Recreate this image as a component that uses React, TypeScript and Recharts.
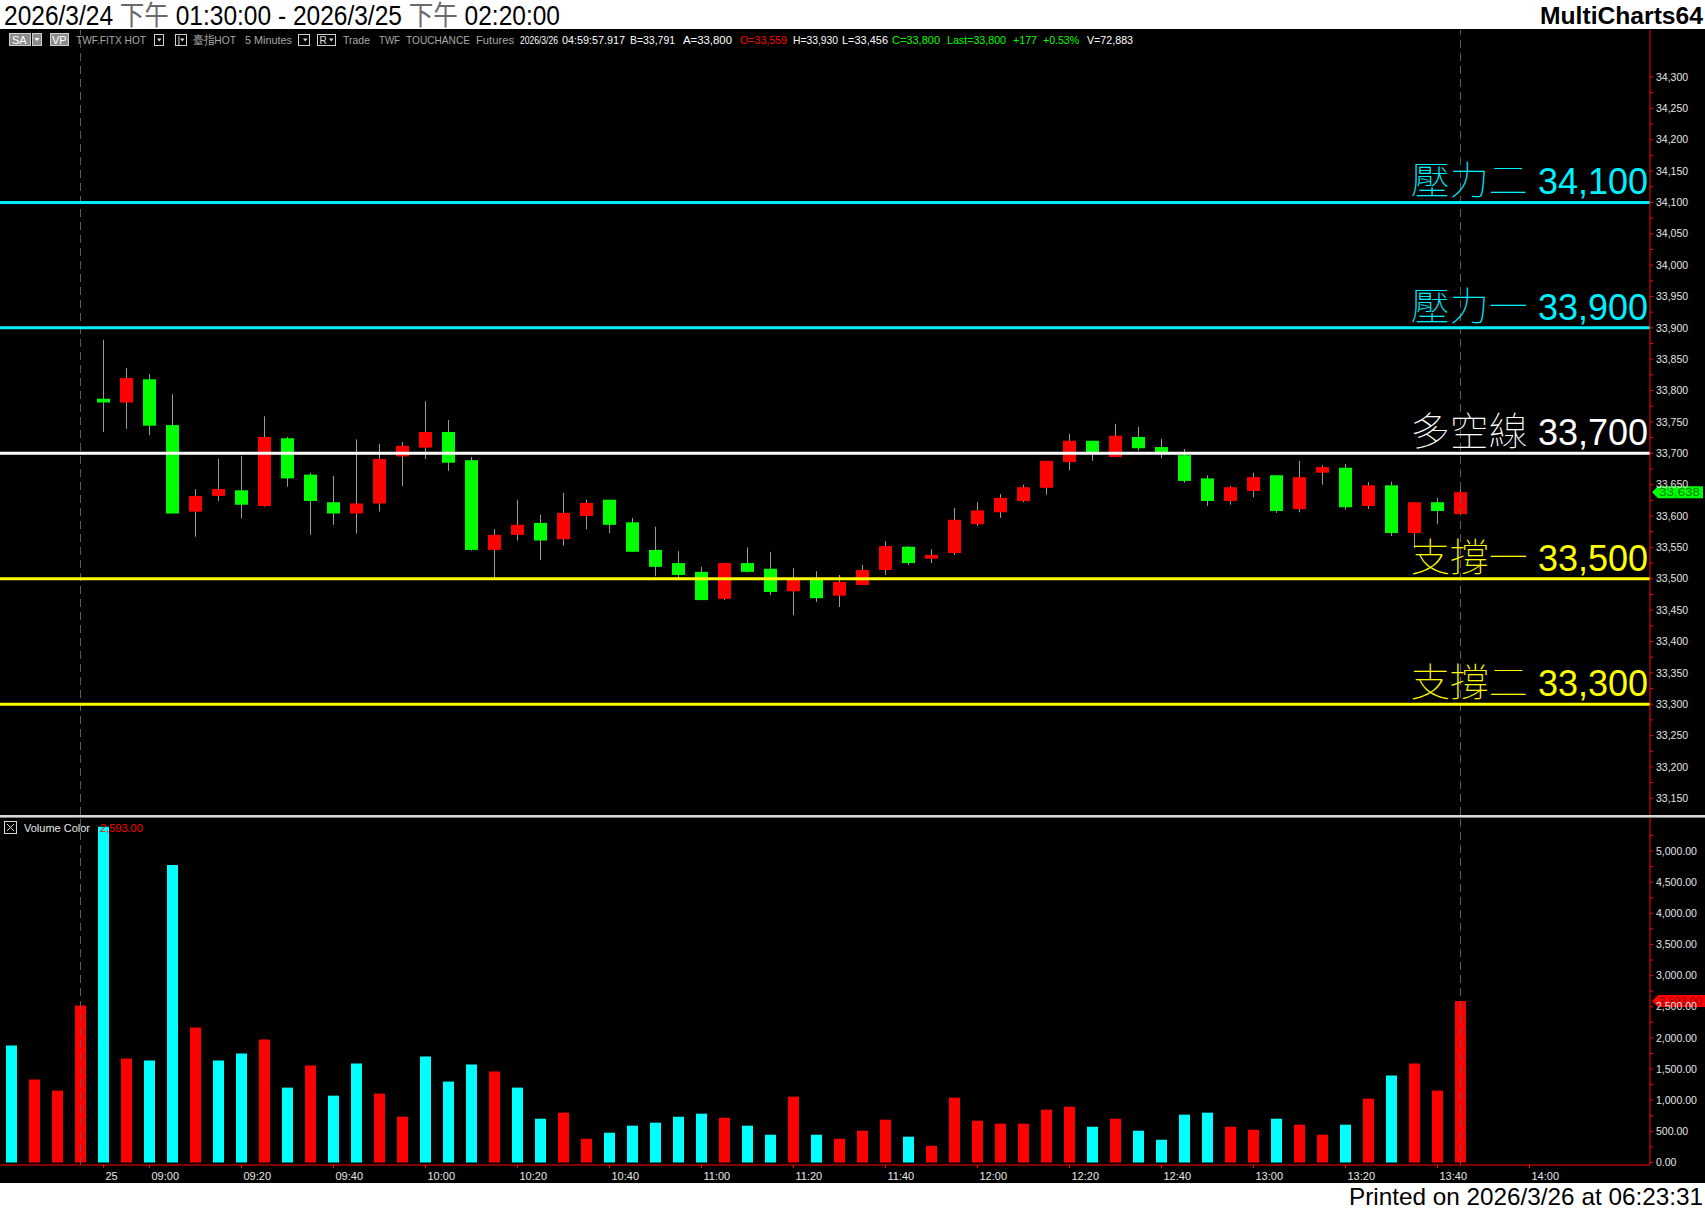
import React from 'react';
import { ComposedChart, Bar, XAxis, YAxis, ReferenceLine, Cell } from 'recharts';

const LAT = "'Liberation Sans', Arial, sans-serif";
const CJK = "'Noto Sans CJK TC', 'Noto Sans CJK SC', sans-serif";

// ---------------- DATA ----------------
// 5-minute bars. Bar index 0..63 (0..3 = previous session end, 4 = 3/25 08:50 ... 63 = 13:45)
const candleStartIndex = 4;
const candleOpen = [
  33787, 33781, 33818, 33745, 33607, 33632, 33641, 33616, 33724, 33666,
  33622, 33604, 33620, 33695, 33709, 33734, 33689, 33546, 33570, 33589,
  33563, 33600, 33626, 33590, 33546, 33525, 33511, 33468, 33525, 33516,
  33480, 33498, 33473, 33490, 33514, 33551, 33532, 33541, 33587, 33606,
  33624, 33645, 33686, 33720, 33694, 33726, 33710, 33697, 33660, 33624,
  33640, 33665, 33611, 33669, 33677, 33616, 33649, 33573, 33622, 33603,
];
const candleHigh = [
  33881, 33836, 33826, 33794, 33643, 33691, 33696, 33759, 33726, 33669,
  33664, 33722, 33715, 33718, 33783, 33753, 33694, 33579, 33626, 33602,
  33637, 33626, 33626, 33597, 33583, 33544, 33519, 33525, 33550, 33543,
  33517, 33512, 33506, 33522, 33560, 33552, 33547, 33613, 33622, 33635,
  33650, 33688, 33731, 33720, 33747, 33742, 33723, 33707, 33665, 33648,
  33669, 33665, 33688, 33681, 33683, 33654, 33655, 33622, 33629, 33650,
];
const candleLow = [
  33734, 33739, 33729, 33604, 33567, 33624, 33596, 33615, 33647, 33570,
  33586, 33572, 33607, 33648, 33691, 33672, 33545, 33501, 33561, 33530,
  33553, 33579, 33573, 33543, 33504, 33502, 33466, 33466, 33510, 33474,
  33442, 33463, 33455, 33490, 33506, 33522, 33525, 33538, 33584, 33597,
  33622, 33634, 33673, 33688, 33694, 33704, 33692, 33653, 33616, 33618,
  33630, 33605, 33606, 33650, 33610, 33611, 33568, 33549, 33587, 33602,
];
const candleClose = [
  33781, 33820, 33744, 33604, 33632, 33643, 33618, 33726, 33660, 33624,
  33604, 33620, 33691, 33712, 33734, 33685, 33546, 33570, 33586, 33561,
  33605, 33621, 33586, 33543, 33519, 33506, 33466, 33525, 33511, 33479,
  33498, 33469, 33495, 33514, 33552, 33525, 33538, 33594, 33609, 33629,
  33646, 33688, 33720, 33702, 33728, 33708, 33702, 33656, 33624, 33646,
  33662, 33608, 33662, 33678, 33614, 33649, 33573, 33622, 33608, 33638,
];

const volumes = [
  1878, 1331, 1154, 2522, 5391, 1669, 1637, 4775, 2168, 1637,
  1749, 1975, 1202, 1556, 1073, 1588, 1106, 735, 1701, 1299,
  1572, 1460, 1202, 703, 800, 381, 478, 591, 639, 735,
  784, 719, 591, 446, 1057, 446, 381, 510, 687, 414,
  269, 1041, 671, 623, 623, 848, 896, 574, 703, 510,
  365, 768, 800, 574, 526, 703, 607, 446, 607, 1025,
  1395, 1588, 1154, 2593,
];
// 1 = red (up volume), 0 = cyan
const volumeUp = [
  0, 1, 1, 1, 0, 1, 0, 0, 1, 0,
  0, 1, 0, 1, 0, 0, 1, 1, 0, 0,
  0, 1, 0, 0, 1, 1, 0, 0, 0, 0,
  0, 1, 0, 0, 1, 0, 1, 1, 1, 0,
  1, 1, 1, 1, 1, 1, 1, 0, 1, 0,
  0, 0, 0, 1, 1, 0, 1, 1, 0, 1,
  0, 1, 1, 1,
];

const timeTickIndex = [4, 6, 10, 14, 18, 22, 26, 30, 34, 38, 42, 46, 50, 54, 58, 62, 66];
const timeTickLabels = ['25', '09:00', '09:20', '09:40', '10:00', '10:20', '10:40', '11:00', '11:20',
  '11:40', '12:00', '12:20', '12:40', '13:00', '13:20', '13:40', '14:00'];

const sessionMarks = [3, 63];

const priceMajorTicks = [33150, 33200, 33250, 33300, 33350, 33400, 33450, 33500, 33550, 33600,
  33650, 33700, 33750, 33800, 33850, 33900, 33950, 34000, 34050, 34100, 34150, 34200, 34250, 34300];
const volumeMajorTicks = [0, 500, 1000, 1500, 2000, 2500, 3000, 3500, 4000, 4500, 5000];

const levelNames = ['壓力二', '壓力一', '多空線', '支撐一', '支撐二'];
const levelValues = [34100, 33900, 33700, 33500, 33300];
const levelColors = ['#00f0ff', '#00f0ff', '#ffffff', '#ffff00', '#ffff00'];

// built tables
const withMinor = (maj: number[]) => {
  const out: number[] = [];
  maj.forEach((v, k) => {
    out.push(v);
    if (k < maj.length - 1) out.push((v + maj[k + 1]) / 2);
  });
  return out;
};
const priceTicks = withMinor(priceMajorTicks);
const volumeTicks = withMinor(volumeMajorTicks).concat([5250]);

const candleData = candleOpen.map((o, k) => ({
  i: candleStartIndex + k,
  open: o,
  high: candleHigh[k],
  low: candleLow[k],
  close: candleClose[k],
  range: [candleLow[k], candleHigh[k]],
}));
const volumeData = volumes.map((v, i) => ({ i, vol: v, up: volumeUp[i] === 1 }));

const lastClose = candleClose[candleClose.length - 1];
const lastVolume = volumes[volumes.length - 1];

const X_DOMAIN: [number, number] = [-0.5, 71.24];

// ---------------- SHAPES ----------------
const CandleShape = (props: any) => {
  const { x, width, payload } = props;
  let { y, height } = props;
  if (!payload || height == null) return null;
  if (height < 0) { y += height; height = -height; }
  const { open, close, high, low } = payload;
  const k = height / ((high - low) || 1);
  const yO = y + (high - open) * k;
  const yC = y + (high - close) * k;
  const up = close >= open;
  const top = Math.min(yO, yC);
  const bh = Math.max(2, Math.abs(yC - yO));
  const cx = x + width / 2;
  return (
    <g>
      <line x1={cx} x2={cx} y1={y} y2={y + height} stroke="#9c9c9c" strokeWidth={1} />
      <rect x={x} y={top} width={width} height={bh} fill={up ? '#ff0000' : '#00ff00'} />
    </g>
  );
};

const LevelLabel = (props: any) => {
  const { viewBox, name, value, color } = props;
  if (!viewBox) return null;
  const xr = viewBox.x + viewBox.width - 2;
  const yb = viewBox.y - 8;
  return (
    <text x={xr} y={yb} textAnchor="end" fill={color} fontSize={36} style={{ whiteSpace: 'pre' }}>
      <tspan fontFamily={CJK} fontWeight={100} fontSize={39}>{name}</tspan>
      <tspan fontFamily={LAT}>{' ' + value.toLocaleString('en-US')}</tspan>
    </text>
  );
};

const Flag = (props: any) => {
  const { viewBox, text, bg, fg, w, fs } = props;
  if (!viewBox) return null;
  const x0 = viewBox.x + viewBox.width + 2;
  const y = viewBox.y;
  const pts = `${x0},${y} ${x0 + 6},${y - 6} ${x0 + w},${y - 6} ${x0 + w},${y + 6} ${x0 + 6},${y + 6}`;
  return (
    <g>
      <polygon points={pts} fill={bg} />
      <text x={x0 + 7} y={y + 4} fill={fg} fontSize={fs} fontFamily={LAT} textLength={w - 10} lengthAdjust="spacingAndGlyphs">{text}</text>
    </g>
  );
};

const TimeTick = (props: any) => {
  const { x, y, payload } = props;
  const idx = timeTickIndex.indexOf(payload.value);
  if (idx < 0) return null;
  return (
    <text x={x + 2} y={y + 12} fill="#e6e6e6" fontSize={11} fontFamily={LAT}>{timeTickLabels[idx]}</text>
  );
};

// ---------------- OVERLAY TEXT ----------------
const infoItems = [
  { t: 'TWF.FITX HOT', x: 76, w: 70, c: '#a8a8a8' },
  { t: '臺指HOT', x: 193, w: 43, c: '#a8a8a8' },
  { t: '5 Minutes', x: 245, w: 47, c: '#a8a8a8' },
  { t: 'Trade', x: 343, w: 27, c: '#a8a8a8' },
  { t: 'TWF', x: 379, w: 21, c: '#a8a8a8' },
  { t: 'TOUCHANCE', x: 406, w: 64, c: '#a8a8a8' },
  { t: 'Futures', x: 476, w: 38, c: '#a8a8a8' },
  { t: '2026/3/26', x: 520, w: 38, c: '#ffffff' },
  { t: '04:59:57.917', x: 562, w: 63, c: '#ffffff' },
  { t: 'B=33,791', x: 630, w: 45, c: '#ffffff' },
  { t: 'A=33,800', x: 683, w: 49, c: '#ffffff' },
  { t: 'O=33,559', x: 740, w: 47, c: '#ff0000' },
  { t: 'H=33,930', x: 793, w: 45, c: '#ffffff' },
  { t: 'L=33,456', x: 842, w: 46, c: '#ffffff' },
  { t: 'C=33,800', x: 892, w: 48, c: '#00ff00' },
  { t: 'Last=33,800', x: 947, w: 59, c: '#00ff00' },
  { t: '+177', x: 1013, w: 24, c: '#00ff00' },
  { t: '+0.53%', x: 1043, w: 36, c: '#00ff00' },
  { t: 'V=72,883', x: 1087, w: 46, c: '#ffffff' },
];

const DropBox = ({ x, w, label }: { x: number; w: number; label?: string }) => (
  <g>
    <rect x={x + 0.5} y={34.5} width={w} height={11} fill="#000" stroke="#d0d0d0" strokeWidth={1} />
    {label ? <text x={x + 2.5} y={44} fill="#e0e0e0" fontSize={10} fontFamily={LAT}>{label}</text> : null}
    <polygon points={`${x + w - 6},${38.5} ${x + w - 1.5},${38.5} ${x + w - 3.75},${41.5}`} fill="#e0e0e0" />
  </g>
);

const Overlay = () => (
  <svg width={1705} height={1211} style={{ position: 'absolute', left: 0, top: 0, pointerEvents: 'none' }}>
    {/* header */}
    <text x={4} y={25} fontSize={27} fontFamily={LAT} fill="#000" textLength={556} lengthAdjust="spacingAndGlyphs" style={{ whiteSpace: 'pre' }}>
      <tspan>2026/3/24 </tspan>
      <tspan fill="#6a6a6a" fontFamily={CJK}>下午</tspan>
      <tspan> 01:30:00 - 2026/3/25 </tspan>
      <tspan fill="#6a6a6a" fontFamily={CJK}>下午</tspan>
      <tspan> 02:20:00</tspan>
    </text>
    <text x={1540} y={24} fontSize={24} fontWeight="bold" fontFamily={LAT} fill="#000" textLength={163} lengthAdjust="spacingAndGlyphs">MultiCharts64</text>

    {/* info row */}
    <rect x={9.5} y={33.5} width={21} height={12} fill="#8c8c8c" stroke="#cfcfcf" />
    <text x={12} y={43.5} fill="#fff" fontSize={11} fontFamily={LAT}>SA</text>
    <rect x={32.5} y={33.5} width={9} height={12} fill="#8c8c8c" stroke="#cfcfcf" />
    <polygon points="34.5,38 39.5,38 37,41" fill="#fff" />
    <rect x={50.5} y={33.5} width={18} height={12} fill="#8c8c8c" stroke="#cfcfcf" />
    <text x={52} y={43.5} fill="#fff" fontSize={11} fontFamily={LAT}>VP</text>
    <DropBox x={154} w={9} />
    <DropBox x={175} w={11} label="|" />
    <DropBox x={298} w={11} />
    <DropBox x={317} w={18} label="R" />
    {infoItems.map((it, k) => (
      <text key={k} x={it.x} y={44} fill={it.c} fontSize={11.5} fontFamily={LAT} textLength={it.w} lengthAdjust="spacingAndGlyphs">{it.t}</text>
    ))}

    {/* pane separator */}
    <rect x={0} y={815} width={1705} height={2} fill="#d8d8d8" />
    <rect x={0} y={817} width={1705} height={1} fill="#808080" />

    {/* volume legend */}
    <rect x={4.5} y={821.5} width={12} height={12} fill="none" stroke="#d8d8d8" />
    <line x1={7} y1={824} x2={14} y2={831} stroke="#d8d8d8" />
    <line x1={14} y1={824} x2={7} y2={831} stroke="#d8d8d8" />
    <text x={24} y={832} fill="#e8e8e8" fontSize={11} fontFamily={LAT}>Volume Color</text>
    <text x={100} y={832} fill="#ff0000" fontSize={11} fontFamily={LAT}>{lastVolume.toLocaleString('en-US', { minimumFractionDigits: 2 })}</text>

    {/* footer */}
    <text x={1349} y={1205} fontSize={24} fontFamily={LAT} fill="#000" textLength={354} lengthAdjust="spacingAndGlyphs">Printed on 2026/3/26 at 06:23:31</text>
  </svg>
);

// ---------------- CHARTS ----------------
const PriceChart = () => (
  <div style={{ position: 'absolute', left: 0, top: 30 }}>
    <ComposedChart width={1705} height={785} data={candleData} margin={{ top: 0, right: 0, bottom: 0, left: 0 }}>
      <XAxis type="number" dataKey="i" domain={X_DOMAIN} allowDataOverflow hide />
      <YAxis
        orientation="right"
        width={55}
        type="number"
        domain={[33123.4, 34374.8]}
        allowDataOverflow
        ticks={priceTicks}
        interval={0}
        tickSize={3}
        tickMargin={3}
        axisLine={{ stroke: '#ff0000' }}
        tickLine={{ stroke: '#ff0000' }}
        tick={{ fill: '#e4e4e4', fontSize: 10.5, fontFamily: LAT }}
        tickFormatter={(v: number) => (priceMajorTicks.indexOf(v) >= 0 ? v.toLocaleString('en-US') : '')}
      />
      {sessionMarks.map((m) => (
        <ReferenceLine key={'s' + m} x={m} stroke="#5e5e5e" strokeDasharray="8 5" />
      ))}
      <Bar dataKey="range" barSize={13} shape={<CandleShape />} isAnimationActive={false} />
      {levelValues.map((v, k) => (
        <ReferenceLine
          key={'l' + v}
          y={v}
          stroke={levelColors[k]}
          strokeWidth={3}
          label={<LevelLabel name={levelNames[k]} value={v} color={levelColors[k]} />}
        />
      ))}
      <ReferenceLine
        y={lastClose}
        stroke="none"
        label={<Flag text={lastClose.toLocaleString('en-US')} bg="#00ff00" fg="#007a00" w={51} fs={10.5} />}
      />
    </ComposedChart>
  </div>
);

const VolumeChart = () => (
  <div style={{ position: 'absolute', left: 0, top: 818 }}>
    <ComposedChart width={1705} height={365} data={volumeData} margin={{ top: 0, right: 0, bottom: 0, left: 0 }}>
      <XAxis
        type="number"
        dataKey="i"
        domain={X_DOMAIN}
        allowDataOverflow
        height={18}
        ticks={timeTickIndex}
        interval={0}
        tickSize={3}
        tickMargin={0}
        axisLine={{ stroke: '#ff0000' }}
        tickLine={{ stroke: '#ff0000' }}
        tick={<TimeTick />}
      />
      <YAxis
        orientation="right"
        width={55}
        type="number"
        domain={[-40.1, 5529.7]}
        allowDataOverflow
        ticks={volumeTicks}
        interval={0}
        tickSize={3}
        tickMargin={3}
        axisLine={{ stroke: '#ff0000' }}
        tickLine={{ stroke: '#ff0000' }}
        tick={{ fill: '#e4e4e4', fontSize: 10.5, fontFamily: LAT }}
        tickFormatter={(v: number) =>
          volumeMajorTicks.indexOf(v) >= 0 ? v.toLocaleString('en-US', { minimumFractionDigits: 2 }) : ''
        }
      />
      {sessionMarks.map((m) => (
        <ReferenceLine key={'s' + m} x={m} stroke="#5e5e5e" strokeDasharray="8 5" />
      ))}
      <Bar dataKey="vol" barSize={11} isAnimationActive={false}>
        {volumeData.map((d, k) => (
          <Cell key={k} fill={d.up ? '#ff0000' : '#00ffff'} />
        ))}
      </Bar>
      <ReferenceLine
        y={lastVolume}
        stroke="none"
        label={<Flag text={lastVolume.toLocaleString('en-US', { minimumFractionDigits: 2 })} bg="#ff0000" fg="#8a0000" w={53} fs={10} />}
      />
    </ComposedChart>
  </div>
);

export default function App() {
  return (
    <div style={{ position: 'absolute', left: 0, top: 0, width: 1705, height: 1211, background: '#ffffff', overflow: 'hidden' }}>
      <div style={{ position: 'absolute', left: 0, top: 29, width: 1705, height: 1154, background: '#000000' }} />
      <PriceChart />
      <VolumeChart />
      <Overlay />
    </div>
  );
}
